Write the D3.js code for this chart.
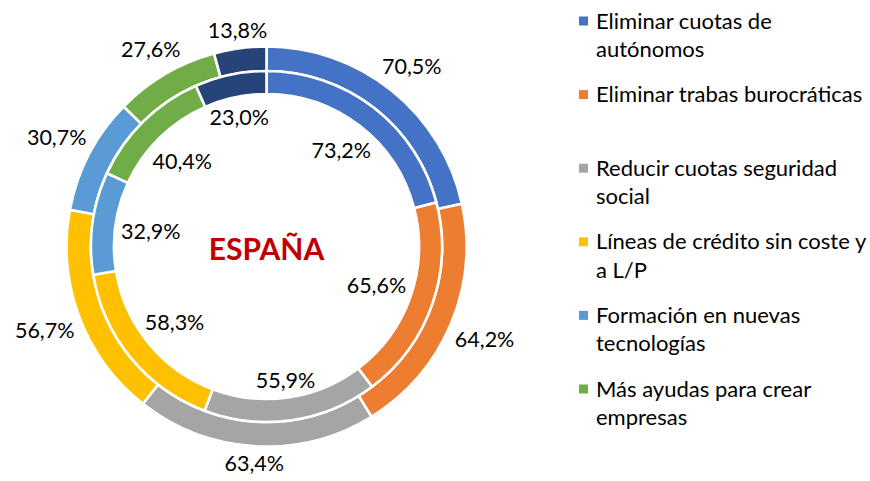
<!DOCTYPE html>
<html><head><meta charset="utf-8">
<script src="https://cdn.jsdelivr.net/npm/d3@7"></script>
<style>body{margin:0;background:#fff} svg{display:block}</style>
</head><body>
<svg id="chart" width="870" height="481"></svg>
<script>
// ---- data ----
const categories = [
  "Eliminar cuotas de\nautónomos",
  "Eliminar trabas burocráticas",
  "Reducir cuotas seguridad\nsocial",
  "Líneas de crédito sin coste y\na L/P",
  "Formación en nuevas\ntecnologías",
  "Más ayudas para crear\nempresas",
  ""
];
const outerValues = [70.5, 64.2, 63.4, 56.7, 30.7, 27.6, 13.8];
const innerValues = [73.2, 65.6, 55.9, 58.3, 32.9, 40.4, 23.0];
const colors = ["#4472C4", "#ED7D31", "#A5A5A5", "#FFC000", "#5B9BD5", "#70AD47", "#264478"];
const centerTitle = "ESPAÑA";

// ---- layout ----
const svg = d3.select("#chart");
const cx = 266.5, cy = 246.5;
const font = "Lato, 'Open Sans', sans-serif";
const g = svg.append("g").attr("transform", `translate(${cx},${cy})`);

const pie = d3.pie().sort(null).value(d => d);
const color = d3.scaleOrdinal().domain(d3.range(colors.length)).range(colors);
const fmt = v => d3.format(".1f")(v).replace(".", ",") + "%";

const rings = [
  {values: outerValues, r0: 175.5, r1: 200, labelOutside: true},
  {values: innerValues, r0: 152.5, r1: 175.5, labelOutside: false}
];

rings.forEach(ring => {
  const arcs = pie(ring.values);
  const arc = d3.arc().innerRadius(ring.r0).outerRadius(ring.r1);
  g.append("g").selectAll("path").data(arcs).join("path")
    .attr("d", arc)
    .attr("fill", (d, i) => color(i))
    .attr("stroke", "#fff")
    .attr("stroke-width", 2.6)
    .attr("stroke-linejoin", "miter");

  const labels = g.append("g").selectAll("text").data(arcs).join("text")
    .attr("font-family", font)
    .attr("font-size", 21.5)
    .attr("fill", "#000")
    .attr("text-anchor", "middle")
    .attr("dominant-baseline", "central")
    .text(d => fmt(d.data));

  labels.each(function(d) {
    const w = this.getComputedTextLength();
    const h = 18;
    const a = (d.startAngle + d.endAngle) / 2;
    const s = Math.sin(a), c = Math.cos(a);
    const ext = (w / 2) * Math.abs(s) + (h / 2) * Math.abs(c);
    const r = ring.labelOutside ? ring.r1 + 6 + ext : ring.r0 - 5 - ext;
    d3.select(this).attr("x", r * s).attr("y", -r * c);
  });
});

g.append("text")
  .attr("text-anchor", "middle")
  .attr("dominant-baseline", "central")
  .attr("y", 1)
  .attr("font-family", font)
  .attr("font-weight", "bold")
  .attr("font-size", 30)
  .attr("fill", "#C00000")
  .text(centerTitle);

// ---- legend ----
const legendItems = categories.map((c, i) => ({name: c, i})).filter(d => d.name !== "");
const legendY = d3.scalePoint().domain(legendItems.map(d => d.i)).range([21, 21 + 73.6 * (legendItems.length - 1)]);
const legend = svg.append("g");
const items = legend.selectAll("g").data(legendItems).join("g")
  .attr("transform", d => `translate(579,${legendY(d.i)})`);
items.append("rect")
  .attr("x", 0).attr("y", -4.5).attr("width", 9).attr("height", 9)
  .attr("fill", d => color(d.i));
items.append("text")
  .attr("font-family", font)
  .attr("font-size", 22)
  .attr("fill", "#000")
  .selectAll("tspan").data(d => d.name.split("\n")).join("tspan")
  .attr("x", 17)
  .attr("y", (d, k) => 7.5 + k * 28.5)
  .text(d => d);
</script>
</body></html>
